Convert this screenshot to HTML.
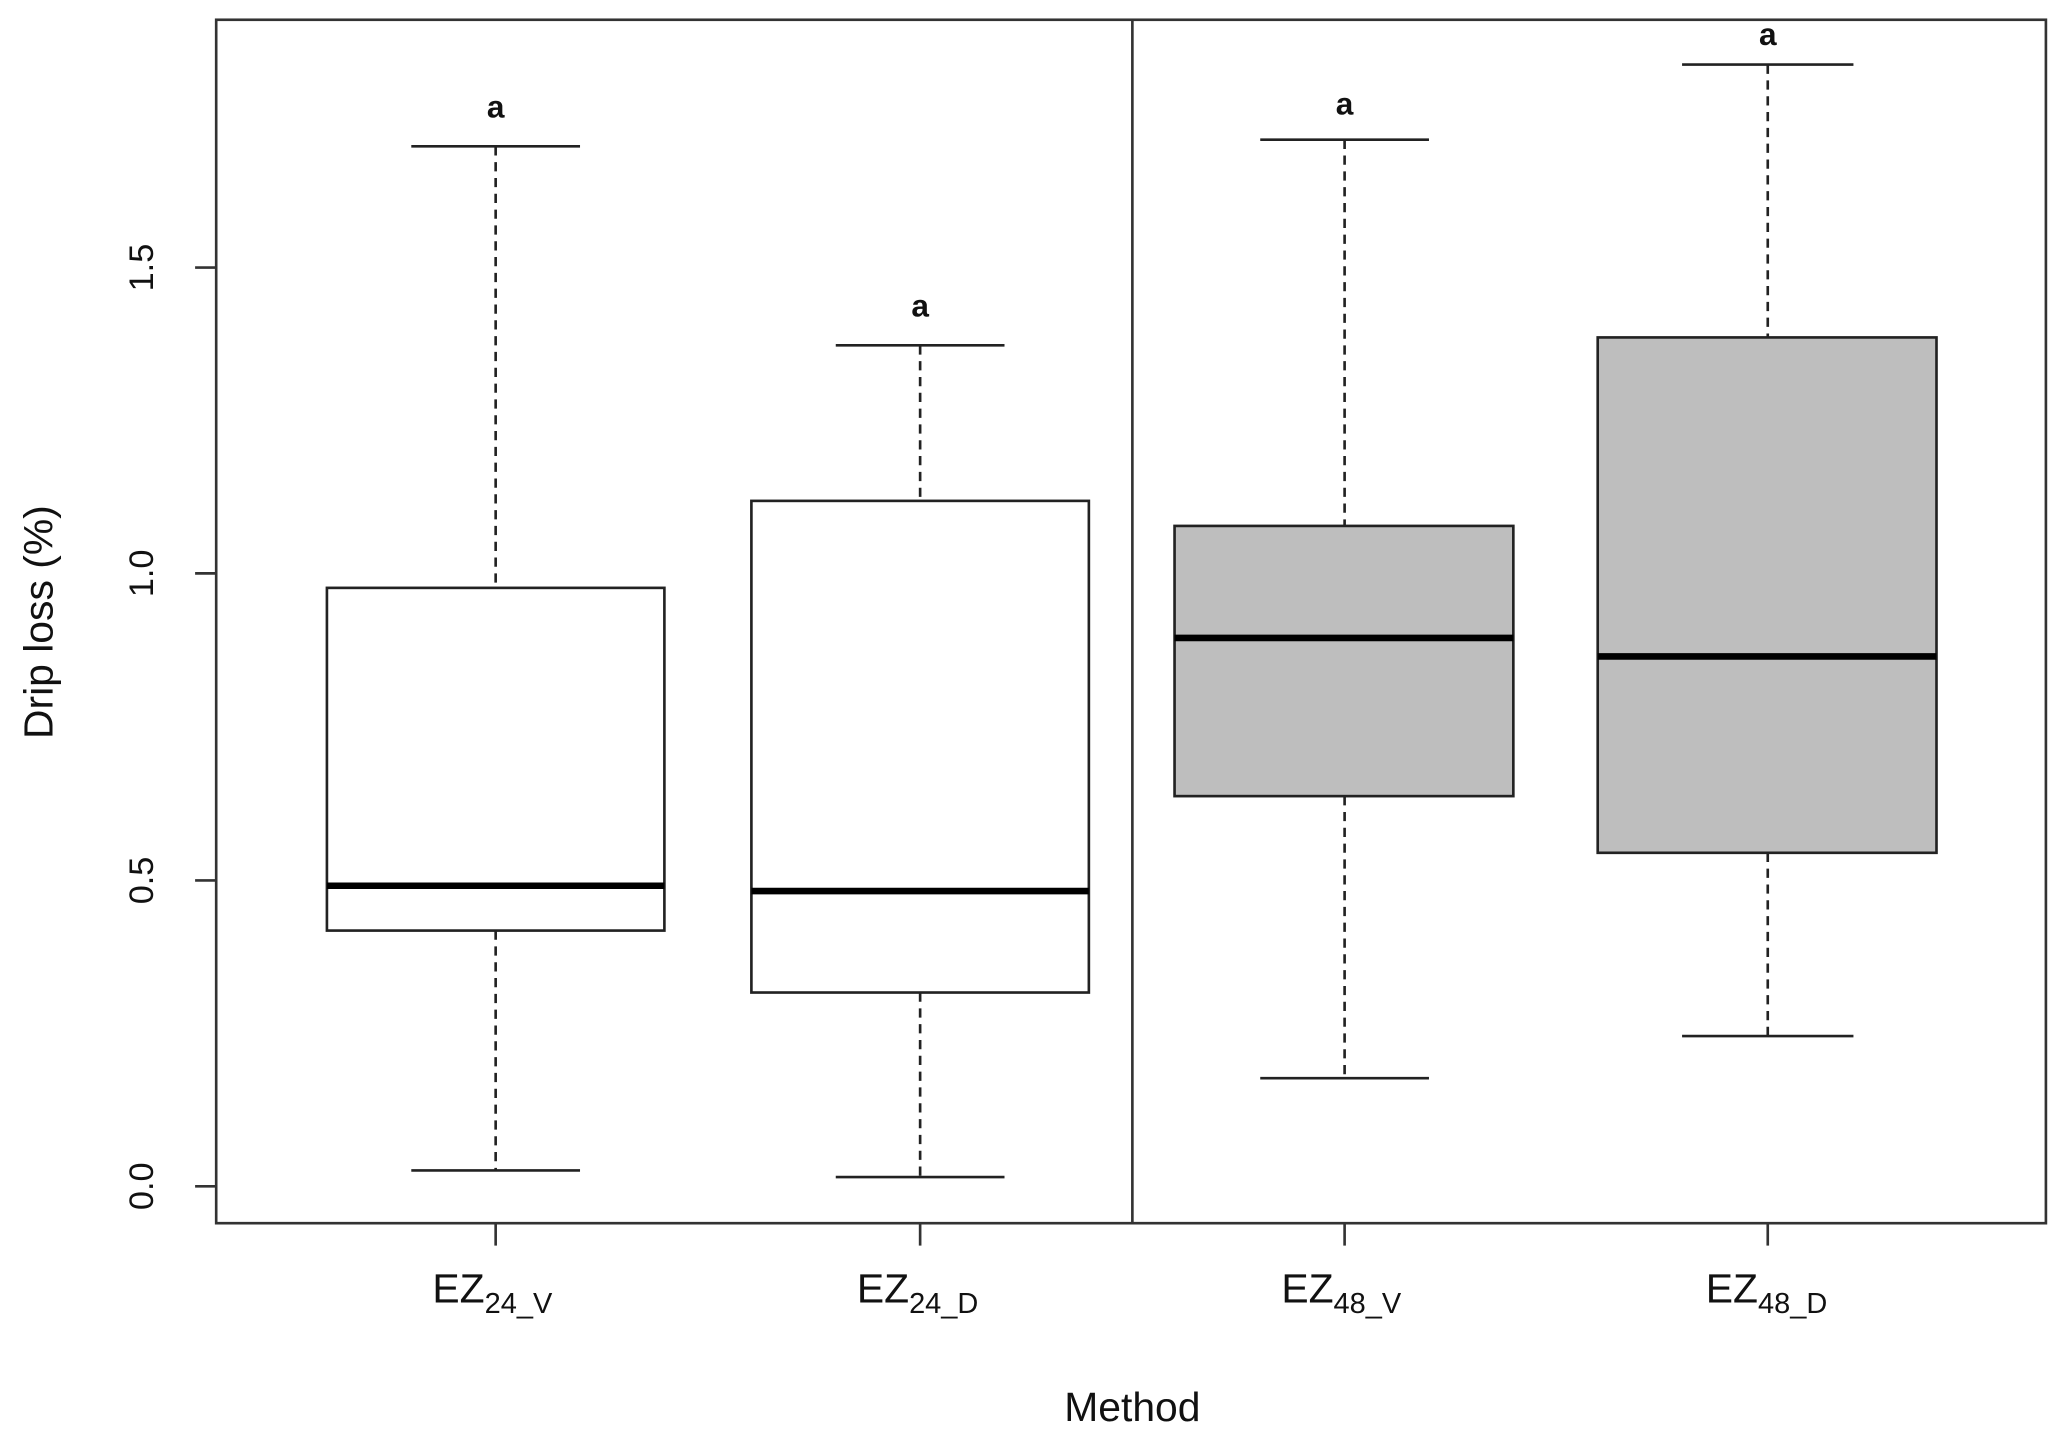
<!DOCTYPE html>
<html><head><meta charset="utf-8"><style>
html,body{margin:0;padding:0;background:#fff;}
svg{display:block;}
text{font-family:"Liberation Sans",Arial,sans-serif;fill:#111;}
</style></head><body>
<svg width="2067" height="1442" viewBox="0 0 1568 1094" preserveAspectRatio="none" xmlns="http://www.w3.org/2000/svg">
<rect width="1568" height="1094" fill="#fff"/>
<g stroke="#222" stroke-width="2" fill="none">
<g stroke-dasharray="7,5">
<line x1="376" y1="111" x2="376" y2="446"/><line x1="376" y1="706" x2="376" y2="888"/>
<line x1="698" y1="262" x2="698" y2="380"/><line x1="698" y1="753" x2="698" y2="893"/>
<line x1="1020" y1="106" x2="1020" y2="399"/><line x1="1020" y1="604" x2="1020" y2="818"/>
<line x1="1341" y1="49" x2="1341" y2="256"/><line x1="1341" y1="647" x2="1341" y2="786"/>
</g>
<line x1="312" y1="111" x2="440" y2="111"/><line x1="312" y1="888" x2="440" y2="888"/>
<line x1="634" y1="262" x2="762" y2="262"/><line x1="634" y1="893" x2="762" y2="893"/>
<line x1="956" y1="106" x2="1084" y2="106"/><line x1="956" y1="818" x2="1084" y2="818"/>
<line x1="1276" y1="49" x2="1406" y2="49"/><line x1="1276" y1="786" x2="1406" y2="786"/>
<rect x="248" y="446" width="256" height="260" fill="#fff"/>
<rect x="570" y="380" width="256" height="373" fill="#fff"/>
<rect x="891" y="399" width="257" height="205" fill="#bebebe"/>
<rect x="1212" y="256" width="257" height="391" fill="#bebebe"/>
</g>
<g stroke="#000" stroke-width="5">
<line x1="248" y1="672" x2="504" y2="672"/>
<line x1="570" y1="676" x2="826" y2="676"/>
<line x1="891" y1="484" x2="1148" y2="484"/>
<line x1="1212" y1="498" x2="1469" y2="498"/>
</g>
<g stroke="#333" stroke-width="2" fill="none">
<rect x="164" y="15" width="1388" height="913"/>
<line x1="859" y1="15" x2="859" y2="928"/>
<line x1="148" y1="900" x2="164" y2="900"/><line x1="148" y1="668" x2="164" y2="668"/>
<line x1="148" y1="435" x2="164" y2="435"/><line x1="148" y1="203" x2="164" y2="203"/>
<line x1="376" y1="928" x2="376" y2="945"/><line x1="698" y1="928" x2="698" y2="945"/>
<line x1="1020" y1="928" x2="1020" y2="945"/><line x1="1341" y1="928" x2="1341" y2="945"/>
</g>
<g font-size="26" text-anchor="middle">
<text transform="translate(116,900) rotate(-90)">0.0</text>
<text transform="translate(116,668) rotate(-90)">0.5</text>
<text transform="translate(116,435) rotate(-90)">1.0</text>
<text transform="translate(116,203) rotate(-90)">1.5</text>
<text transform="translate(40,472) rotate(-90)" font-size="31">Drip loss (%)</text>
<text x="859" y="1078" font-size="31">Method</text>
</g>
<g font-size="24" font-weight="bold" text-anchor="middle" style="font-family:'Liberation Sans',Arial,sans-serif">
<text x="376" y="89">a</text><text x="698" y="240">a</text>
<text x="1020" y="87">a</text><text x="1341" y="34">a</text>
</g>
<g font-size="31">
<text x="328" y="988">EZ<tspan font-size="22" dy="8">24_V</tspan></text>
<text x="650" y="988">EZ<tspan font-size="22" dy="8">24_D</tspan></text>
<text x="972" y="988">EZ<tspan font-size="22" dy="8">48_V</tspan></text>
<text x="1294" y="988">EZ<tspan font-size="22" dy="8">48_D</tspan></text>
</g>
</svg>
</body></html>
